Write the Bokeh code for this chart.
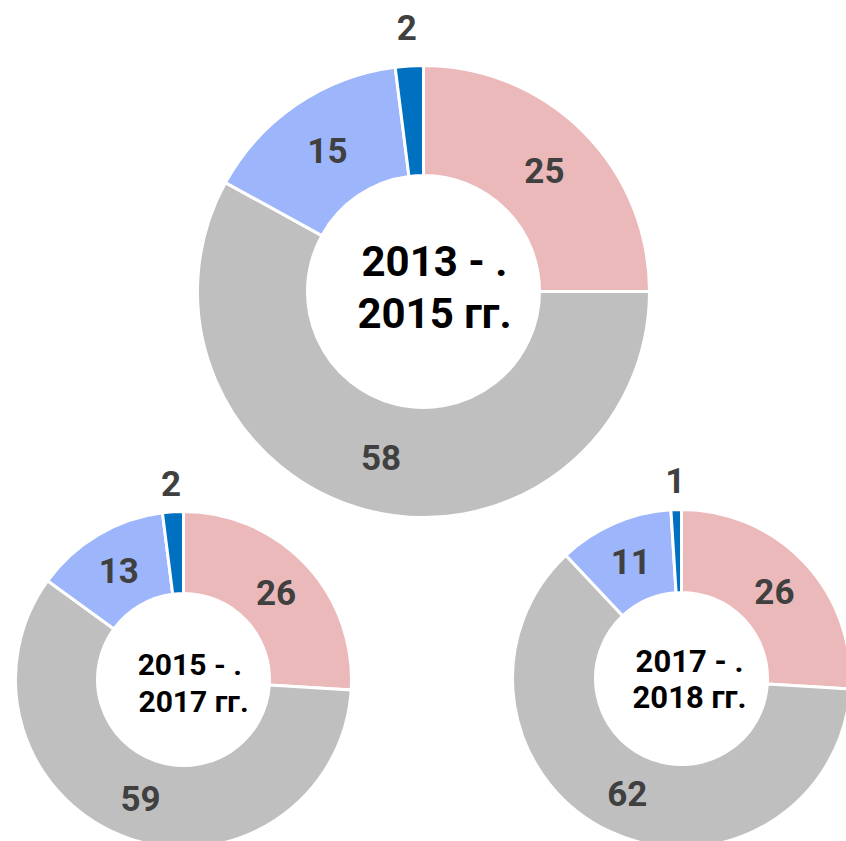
import math
from bokeh.plotting import figure
from bokeh.models import Range1d, ColumnDataSource
from bokeh.core.properties import value
from bokeh.embed import file_html
from bokeh.resources import INLINE

# ---- data ----
categories = ["A", "B", "C", "D"]
values_2013_2015 = [25, 58, 15, 2]
values_2015_2017 = [26, 59, 13, 2]
values_2017_2018 = [26, 62, 11, 1]
titles = [["2013 - .", "2015 гг."], ["2015  - .", "2017 гг."], ["2017 - .", "2018 гг."]]

colors = ["#ECB9BA", "#BFBFBF", "#9DB6FB", "#0070C0"]

# ---- layout (page pixel coordinates; y flipped so data y = H - page y) ----
W, H = 846, 841
donuts = [
    dict(vals=values_2013_2015, cx=423, cy=291, R=226, r=116, title=titles[0], fs=42, tdx=11, tdy=(-30, 22)),
    dict(vals=values_2015_2017, cx=183, cy=679, R=168, r=86, title=titles[1], fs=30, tdx=10, tdy=(-15, 22)),
    dict(vals=values_2017_2018, cx=681, cy=678, R=169, r=86, title=titles[2], fs=31, tdx=8, tdy=(-17, 19)),
]

p = figure(width=W, height=H, output_backend="svg", toolbar_location=None,
           x_range=Range1d(0, W), y_range=Range1d(0, H),
           x_axis_type=None, y_axis_type=None, min_border=0)
p.grid.visible = False
p.outline_line_color = None
p.background_fill_color = "white"
p.border_fill_color = "white"

for d in donuts:
    vals = d["vals"]
    total = float(sum(vals))
    starts, ends, lx, ly, ltxt = [], [], [], [], []
    cum = 0.0
    cx, cy = d["cx"], H - d["cy"]
    for v in vals:
        a0 = math.pi / 2 - 2 * math.pi * cum / total
        a1 = math.pi / 2 - 2 * math.pi * (cum + v) / total
        starts.append(a0)
        ends.append(a1)
        mid = (a0 + a1) / 2
        rr = (d["R"] + d["r"]) / 2 if v >= 5 else d["R"] * 1.17
        lx.append(cx + rr * math.cos(mid))
        ly.append(cy + rr * math.sin(mid))
        ltxt.append(str(v))
        cum += v
    src = ColumnDataSource(dict(start=starts, end=ends, color=colors, cat=categories))
    p.annular_wedge(x=cx, y=cy, inner_radius=d["r"], outer_radius=d["R"],
                    start_angle="start", end_angle="end", direction="clock",
                    fill_color="color", line_color="white", line_width=3, source=src)
    p.text(x=lx, y=ly, text=ltxt, text_align="center", text_baseline="middle",
           text_font=value("Roboto"), text_font_style="bold",
           text_font_size="35px", text_color="#404040")
    for line, dy in zip(d["title"], d["tdy"]):
        p.text(x=[cx + d["tdx"]], y=[cy - dy], text=[line], text_align="center",
               text_baseline="middle", text_font=value("Roboto"), text_font_style="bold",
               text_font_size=f"{d['fs']}px", text_color="#000000")

open("out.html", "w").write(file_html(p, INLINE))
